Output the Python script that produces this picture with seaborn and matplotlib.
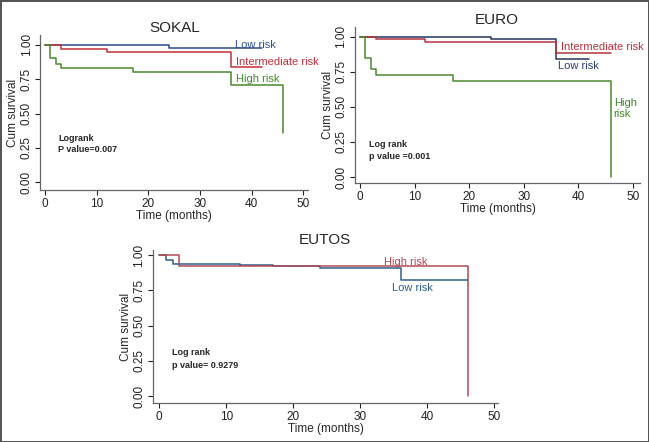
import pandas as pd
import matplotlib.pyplot as plt
import seaborn as sns

# SOKAL curves (time in months, cumulative survival, step-post)
sokal_low_t = [0, 24, 42]
sokal_low_s = [1.0, 0.976, 0.976]
sokal_int_t = [0, 3, 12, 36, 42]
sokal_int_s = [1.0, 0.968, 0.947, 0.842, 0.842]
sokal_high_t = [0, 1, 2, 3, 17, 36, 46, 46]
sokal_high_s = [1.0, 0.903, 0.861, 0.835, 0.806, 0.706, 0.706, 0.36]

# EURO curves
euro_low_t = [0, 24, 36, 42]
euro_low_s = [1.0, 0.983, 0.84, 0.84]
euro_int_t = [0, 3, 12, 36, 46]
euro_int_s = [1.0, 0.983, 0.962, 0.883, 0.883]
euro_high_t = [0, 1, 2, 3, 17, 46, 46]
euro_high_s = [1.0, 0.848, 0.771, 0.729, 0.686, 0.686, 0.0]

# EUTOS curves
eutos_low_t = [0, 1, 2, 12, 17, 24, 36, 46]
eutos_low_s = [1.0, 0.965, 0.94, 0.93, 0.924, 0.912, 0.82, 0.82]
eutos_high_t = [0, 3, 46, 46]
eutos_high_s = [1.0, 0.92, 0.92, 0.0]

x_ticks = [0, 10, 20, 30, 40, 50]
y_ticks = [0.0, 0.25, 0.5, 0.75, 1.0]

sns.set_style('white')
plt.rcParams['font.family'] = ['Liberation Sans', 'DejaVu Sans']

fig = plt.figure(figsize=(6.49, 4.42), dpi=100)
fig.patch.set_edgecolor('#555555')
fig.patch.set_linewidth(2)


def make_df(curves):
    rows = []
    for name, t, s in curves:
        for ti, si in zip(t, s):
            rows.append([name, ti, si])
    return pd.DataFrame(rows, columns=['group', 'time', 'surv'])


def km_panel(rect, title, curves, palette, ylim, xlim, title_xy):
    ax = fig.add_axes(rect)
    df = make_df(curves)
    sns.lineplot(data=df, x='time', y='surv', hue='group', palette=palette,
                 estimator=None, sort=False, drawstyle='steps-post',
                 linewidth=1.1, legend=False, ax=ax)
    ax.set_xlim(*xlim)
    ax.set_ylim(*ylim)
    ax.set_xticks(x_ticks)
    ax.set_yticks(y_ticks)
    ax.set_yticklabels(['%.2f' % v for v in y_ticks], rotation=90, va='center')
    ax.tick_params(axis='both', labelsize=8.5, length=3.5, width=0.8,
                   colors='#222222', direction='out', pad=2)
    ax.tick_params(axis='both', bottom=True, left=True)
    sns.despine(ax=ax)
    for side in ['left', 'bottom']:
        ax.spines[side].set_color('#666666')
        ax.spines[side].set_linewidth(0.9)
    ax.set_xlabel('Time (months)', fontsize=8.5, labelpad=0)
    ax.set_ylabel('Cum survival', fontsize=8.5, labelpad=1)
    fig.text(title_xy[0], title_xy[1], title, fontsize=11, ha='center', va='center')
    return ax


# SOKAL
ax1 = km_panel([0.062, 0.570, 0.413, 0.351], 'SOKAL',
               [('Low risk', sokal_low_t, sokal_low_s),
                ('Intermediate risk', sokal_int_t, sokal_int_s),
                ('High risk', sokal_high_t, sokal_high_s)],
               {'Low risk': '#2b4a8b', 'Intermediate risk': '#c0303a', 'High risk': '#4a8a2e'},
               (-0.058, 1.073), (-0.97, 50.97), (0.27, 1 - 28 / 442))
ax1.text(36.8, 1.0, 'Low risk', color='#2f4f95', fontsize=8, va='center')
ax1.text(37.0, 0.874, 'Intermediate risk', color='#c0303a', fontsize=8, va='center')
ax1.text(37.0, 0.754, 'High risk', color='#3f8a2a', fontsize=8, va='center')
ax1.text(2.5, 0.32, 'Logrank', fontsize=6.5, fontweight='bold', va='center')
ax1.text(2.5, 0.24, 'P value=0.007', fontsize=6.5, fontweight='bold', va='center')

# EURO
ax2 = km_panel([0.547, 0.586, 0.439, 0.353], 'EURO',
               [('Low risk', euro_low_t, euro_low_s),
                ('Intermediate risk', euro_int_t, euro_int_s),
                ('High risk', euro_high_t, euro_high_s)],
               {'Low risk': '#24365e', 'Intermediate risk': '#b8333d', 'High risk': '#4a8a2e'},
               (-0.043, 1.07), (-0.92, 51.3), (0.766, 1 - 20 / 442))
ax2.text(36.8, 0.93, 'Intermediate risk', color='#b8333d', fontsize=8, va='center')
ax2.text(36.3, 0.79, 'Low risk', color='#2a4070', fontsize=8, va='center')
ax2.text(46.5, 0.49, 'High\nrisk', color='#3f8a2a', fontsize=8, va='center', linespacing=1.1)
ax2.text(1.7, 0.23, 'Log rank', fontsize=6.5, fontweight='bold', va='center')
ax2.text(1.7, 0.145, 'p value =0.001', fontsize=6.5, fontweight='bold', va='center')

# EUTOS
ax3 = km_panel([0.236, 0.088, 0.532, 0.346], 'EUTOS',
               [('Low risk', eutos_low_t, eutos_low_s),
                ('High risk', eutos_high_t, eutos_high_s)],
               {'Low risk': '#2d5f8f', 'High risk': '#b34a55'},
               (-0.05, 1.035), (-0.9, 50.6), (0.50, 1 - 240 / 442))
ax3.text(33.5, 0.95, 'High risk', color='#b34a55', fontsize=8, va='center')
ax3.text(34.7, 0.77, 'Low risk', color='#2d5f8f', fontsize=8, va='center')
ax3.text(1.9, 0.31, 'Log rank', fontsize=6.5, fontweight='bold', va='center')
ax3.text(1.9, 0.215, 'p value= 0.9279', fontsize=6.5, fontweight='bold', va='center')

plt.savefig('out.png', dpi=100)
plt.close()
